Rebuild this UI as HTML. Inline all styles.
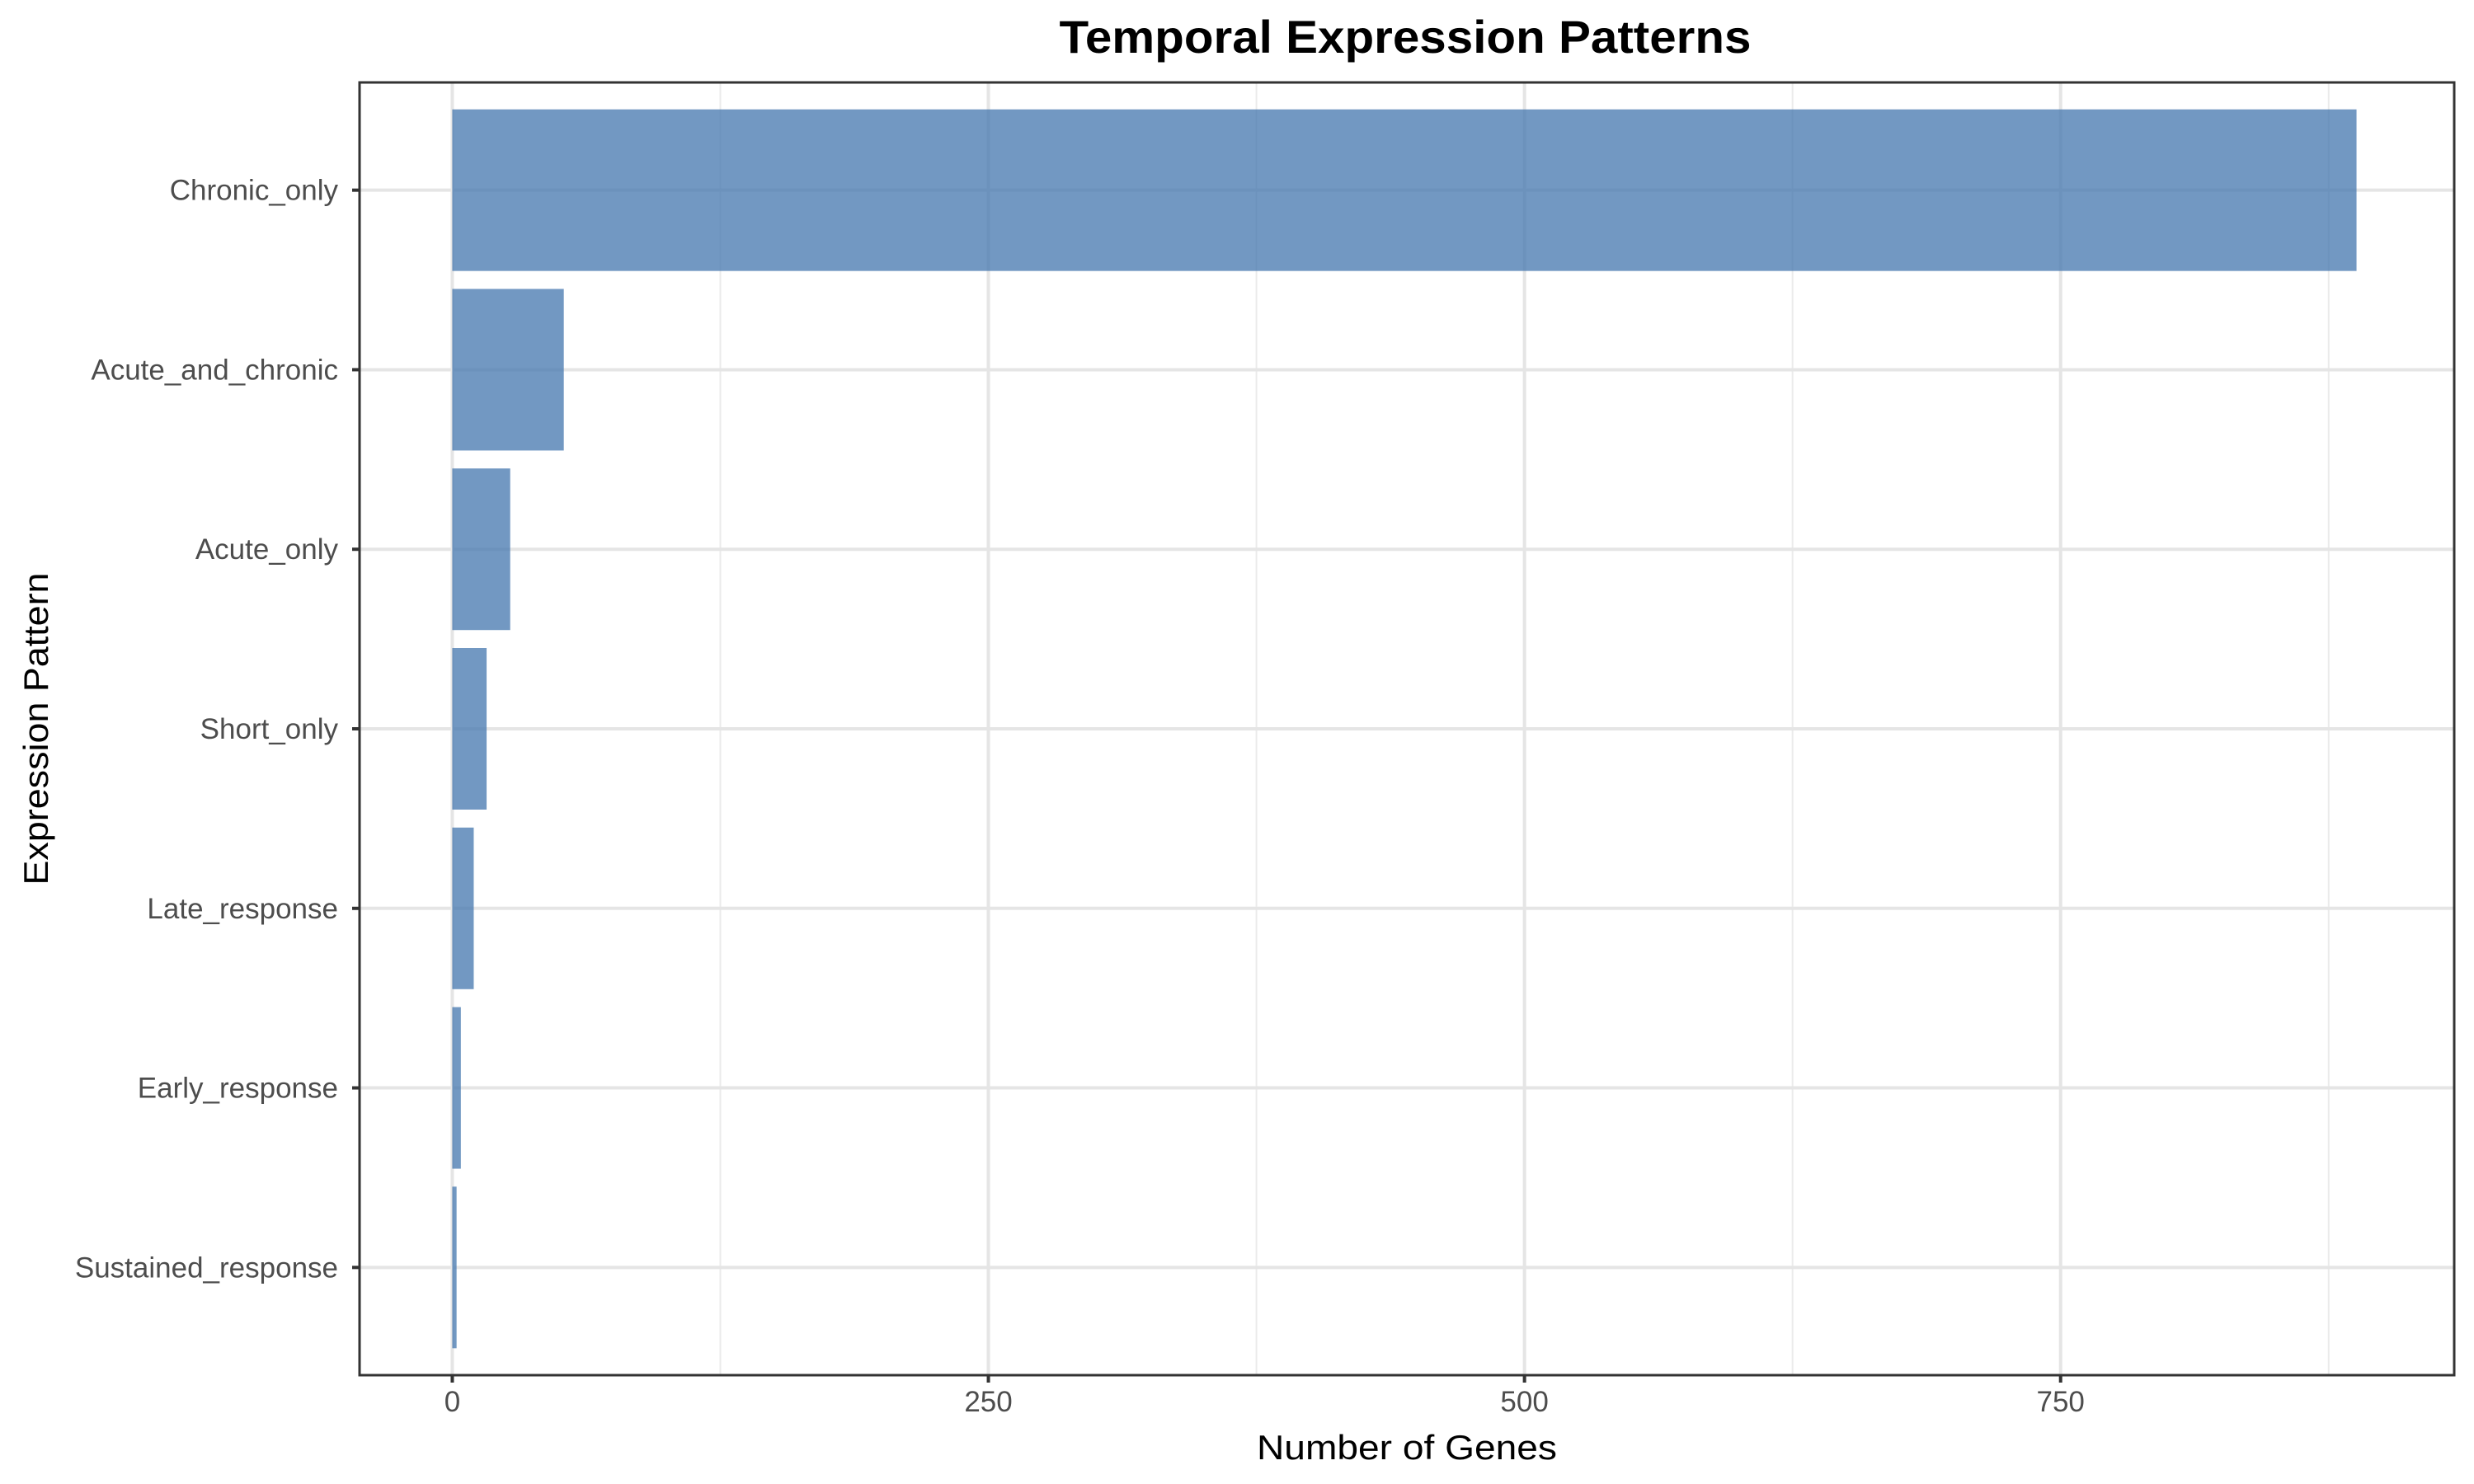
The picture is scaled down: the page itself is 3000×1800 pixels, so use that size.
<!DOCTYPE html>
<html><head><meta charset="utf-8"><style>
html,body{margin:0;padding:0;background:#fff;}
svg{display:block;font-family:"Liberation Sans",Arial,sans-serif;}
</style></head><body>
<svg id="chart" width="3000" height="1800" viewBox="0 0 3000 1800">
<text x="1704" y="64" text-anchor="middle" font-size="56" font-weight="bold" fill="#000" textLength="839" lengthAdjust="spacingAndGlyphs">Temporal Expression Patterns</text>
<g id="grid"></g>
<g id="bars"></g>
<rect x="436" y="100" width="2540" height="1568" fill="none" stroke="#333" stroke-width="3"/>
<g id="axes"></g>
<text x="1706" y="1770" text-anchor="middle" font-size="42" fill="#000" textLength="364" lengthAdjust="spacingAndGlyphs">Number of Genes</text>
<text transform="translate(58,884) rotate(-90)" text-anchor="middle" font-size="42" fill="#000" textLength="379" lengthAdjust="spacingAndGlyphs">Expression Pattern</text>
</svg>
<script>
const categories = ["Chronic_only","Acute_and_chronic","Acute_only","Short_only","Late_response","Early_response","Sustained_response"];
const values = [888, 52, 27, 16, 10, 4, 2];
const xTicks = [0, 250, 500, 750];
const xMinor = [125, 375, 625, 875];

const NS = "http://www.w3.org/2000/svg";
const L = 436, R = 2976, T = 100, B = 1668;
const maxV = Math.max(...values);
const xmin = -0.05 * maxV, xmax = maxV * 1.05;
const xs = v => L + (v - xmin) / (xmax - xmin) * (R - L) - 3;
const n = categories.length;
const step = (B - T) / (n - 1 + 1.2);
const ys = i => T + step * (0.6 + i);

function mk(tag, attrs, parent) {
  const e = document.createElementNS(NS, tag);
  for (const k in attrs) e.setAttribute(k, attrs[k]);
  parent.appendChild(e);
  return e;
}
const grid = document.getElementById('grid');
const bars = document.getElementById('bars');
const axes = document.getElementById('axes');

xMinor.forEach(v => {
  const l = mk('line', {x1: xs(v), x2: xs(v), y1: T, y2: B, stroke: '#ebebeb', 'stroke-width': 2}, grid);
  
  
});
xTicks.forEach(v => {
  const l = mk('line', {x1: xs(v), x2: xs(v), y1: T, y2: B, stroke: '#e5e5e5', 'stroke-width': 4}, grid);
  
  
  const t = mk('line', {x1: xs(v), x2: xs(v), y1: B, y2: B + 9, stroke: '#333', 'stroke-width': 4}, axes);
  
  
  const tx = mk('text', {x: xs(v), y: B + 44, 'text-anchor': 'middle', 'font-size': 35, fill: '#4d4d4d'}, axes);
  tx.textContent = v;
  
  
});
categories.forEach((c, i) => {
  const y = ys(i);
  const g = mk('line', {x1: L, x2: R, y1: y, y2: y, stroke: '#e5e5e5', 'stroke-width': 4}, grid);
  
  
  const h = step * 0.9;
  const b = mk('rect', {x: xs(0), y: y - h / 2, width: xs(values[i]) - xs(0), height: h, fill: 'rgb(70,120,175)', 'fill-opacity': 0.76}, bars);
  
  
  const t = mk('line', {x1: L - 9, x2: L, y1: y, y2: y, stroke: '#333', 'stroke-width': 4}, axes);
  
  
  const tx = mk('text', {x: L - 26, y: y + 12, 'text-anchor': 'end', 'font-size': 35, fill: '#4d4d4d'}, axes);
  tx.textContent = c;
  
  
});
</script>
</body></html>
